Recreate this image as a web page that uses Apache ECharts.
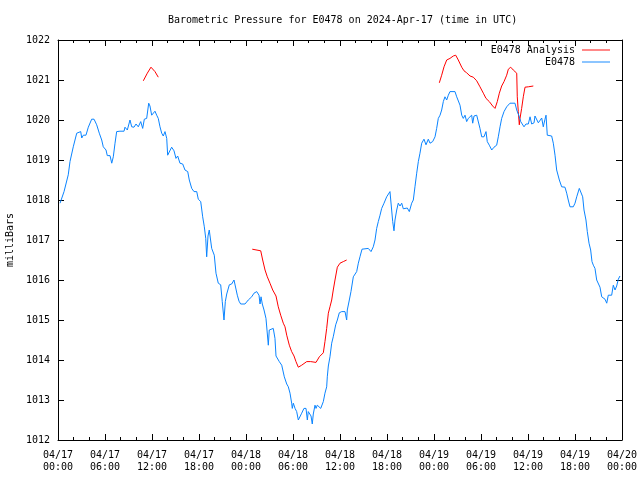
<!DOCTYPE html>
<html>
<head>
<meta charset="utf-8">
<script src="https://cdn.jsdelivr.net/npm/echarts@6/dist/echarts.min.js"></script>
<style>html,body{margin:0;padding:0;background:#fff;}#c{width:640px;height:480px;}</style>
</head>
<body>
<div id="c"></div>
<script>
// hours since 2024-04-17 00:00 UTC
var blueHours = [0.26,0.77,1.02,1.31,1.53,1.95,2.39,2.59,2.90,3.03,3.23,3.57,3.87,4.30,4.60,4.94,5.27,5.58,5.78,6.13,6.29,6.64,6.86,7.06,7.28,7.49,7.91,8.43,8.55,8.85,9.19,9.41,9.70,9.96,10.25,10.56,10.81,11.02,11.32,11.58,11.74,11.96,12.17,12.38,12.60,12.80,13.02,13.24,13.44,13.66,13.88,14.00,14.21,14.51,14.81,15.06,15.28,15.57,15.92,16.21,16.56,16.76,17.07,17.36,17.71,17.91,18.22,18.47,18.68,18.86,18.98,19.15,19.31,19.62,19.95,20.17,20.46,20.77,20.97,21.19,21.36,21.54,21.87,22.17,22.47,22.72,22.89,23.11,23.32,23.87,24.29,24.73,25.02,25.37,25.66,25.79,25.92,26.08,26.30,26.55,26.72,26.85,26.97,27.06,27.48,27.70,27.83,28.00,28.25,28.56,28.76,28.89,29.20,29.40,29.62,29.83,29.91,30.04,30.26,30.47,30.68,30.89,31.11,31.40,31.66,31.83,31.95,32.17,32.30,32.46,32.59,32.81,32.94,33.10,33.32,33.54,33.79,33.87,34.08,34.30,34.38,34.51,34.72,34.94,35.14,35.45,35.66,35.91,36.22,36.64,36.85,36.93,37.19,37.40,37.70,37.91,38.13,38.34,38.55,38.81,39.06,39.61,39.96,40.25,40.47,40.68,40.89,41.11,41.32,41.62,41.96,42.38,42.60,42.73,42.89,43.02,43.24,43.44,43.66,43.88,44.08,44.30,44.59,44.85,45.15,45.36,45.57,45.79,46.00,46.21,46.43,46.72,46.98,47.27,47.49,47.83,48.13,48.34,48.55,48.77,48.98,49.19,49.40,49.62,49.83,50.04,50.68,50.90,51.10,51.32,51.54,51.74,51.96,52.17,52.38,52.60,52.81,52.94,53.11,53.45,53.66,53.87,54.09,54.38,54.64,54.80,55.06,55.37,55.66,56.00,56.21,56.43,56.64,56.94,57.28,57.70,58.34,58.56,58.76,58.89,59.07,59.32,59.49,59.74,60.04,60.26,60.47,60.77,60.89,61.11,61.32,61.53,61.75,61.95,62.17,62.30,62.46,63.02,63.23,63.45,63.66,64.00,64.30,64.72,64.94,65.14,65.36,65.78,66.00,66.22,66.55,66.73,66.98,67.15,67.40,67.57,67.79,68.00,68.17,68.34,68.55,68.77,68.97,69.19,69.41,69.61,69.83,70.05,70.25,70.47,70.68,70.89,71.11,71.32,71.53,71.74];
var bluePressure = [1017.92,1018.21,1018.21,1018.63,1018.96,1019.33,1019.67,1019.72,1019.71,1019.55,1019.62,1019.62,1019.82,1020.02,1020.02,1019.88,1019.67,1019.50,1019.33,1019.25,1019.11,1019.11,1018.92,1019.08,1019.42,1019.71,1019.72,1019.72,1019.82,1019.75,1020.00,1019.83,1019.82,1019.90,1019.83,1019.96,1019.79,1020.02,1020.04,1020.42,1020.35,1020.12,1020.17,1020.22,1020.12,1020.04,1019.83,1019.67,1019.60,1019.71,1019.54,1019.12,1019.12,1019.32,1019.23,1019.04,1019.10,1018.92,1018.90,1018.75,1018.71,1018.50,1018.29,1018.21,1018.21,1018.02,1017.96,1017.58,1017.33,1017.04,1016.58,1017.10,1017.25,1016.79,1016.62,1016.17,1015.92,1015.88,1015.46,1015.00,1015.46,1015.65,1015.88,1015.90,1016.00,1016.00,1015.62,1015.47,1015.40,1015.40,1015.50,1015.58,1015.67,1015.71,1015.62,1015.40,1015.58,1015.40,1015.25,1015.04,1015.00,1014.37,1014.75,1014.79,1014.79,1014.54,1014.10,1014.15,1013.96,1013.87,1013.87,1013.58,1013.40,1013.33,1013.17,1012.92,1012.79,1012.92,1012.79,1012.71,1012.50,1012.50,1012.67,1012.79,1012.79,1012.50,1012.71,1012.68,1012.60,1012.40,1012.65,1012.87,1012.79,1012.87,1012.90,1012.79,1012.79,1012.96,1013.17,1013.33,1013.58,1013.85,1014.08,1014.42,1014.58,1014.88,1015.00,1015.18,1015.21,1015.21,1015.00,1015.25,1015.50,1015.71,1016.08,1016.12,1016.21,1016.42,1016.58,1016.77,1016.79,1016.79,1016.71,1016.83,1017.00,1017.29,1017.46,1017.62,1017.79,1017.92,1018.08,1018.21,1018.17,1017.46,1017.23,1017.50,1017.75,1017.92,1017.85,1017.92,1017.78,1017.83,1017.80,1017.71,1017.92,1018.00,1018.33,1018.67,1018.96,1019.17,1019.42,1019.52,1019.38,1019.52,1019.42,1019.46,1019.58,1019.79,1020.04,1020.12,1020.25,1020.46,1020.58,1020.50,1020.62,1020.71,1020.71,1020.58,1020.60,1020.37,1020.12,1020.04,1020.12,1019.96,1020.04,1020.08,1020.12,1019.92,1020.10,1020.12,1020.08,1019.79,1019.58,1019.58,1019.71,1019.46,1019.37,1019.25,1019.32,1019.37,1019.58,1019.83,1020.04,1020.21,1020.33,1020.42,1020.42,1020.25,1020.21,1020.08,1019.96,1019.92,1019.83,1019.90,1019.90,1020.08,1019.90,1019.93,1020.10,1020.10,1019.93,1019.95,1020.05,1019.83,1020.02,1020.12,1019.62,1019.60,1019.42,1019.12,1018.75,1018.50,1018.33,1018.32,1018.17,1018.00,1017.83,1017.83,1017.92,1018.08,1018.29,1018.33,1018.08,1017.75,1017.50,1017.21,1016.92,1016.75,1016.46,1016.37,1016.29,1016.00,1016.00,1015.82,1015.58,1015.58,1015.52,1015.42,1015.62,1015.67,1015.62,1015.87,1015.75,1015.85,1016.02,1016.10];

var analysisHoursA = [10.89,11.40,11.87,12.38,12.80];
var analysisPressureA = [1020.98,1021.17,1021.32,1021.21,1021.07];
var analysisHoursB = [24.80,25.88,26.13,26.43,26.72,27.06,27.41,27.83,28.12,28.43,28.76,28.98,29.20,29.53,29.83,30.13,30.38,30.68,31.11,31.75,32.26,32.94,33.36,33.87,34.08,34.30,34.51,34.72,34.94,35.14,35.36,35.66,36.00,36.42,36.85];
var analysisPressureB = [1016.77,1016.73,1016.50,1016.25,1016.08,1015.92,1015.75,1015.60,1015.33,1015.12,1014.92,1014.83,1014.62,1014.37,1014.21,1014.10,1013.96,1013.82,1013.87,1013.96,1013.96,1013.94,1014.08,1014.18,1014.46,1014.79,1015.17,1015.33,1015.50,1015.75,1016.00,1016.32,1016.42,1016.46,1016.50];
var analysisHoursC = [48.68,48.98,49.28,49.62,50.04,50.46,50.77,51.10,51.54,51.83,52.17,52.60,53.02,53.45,53.87,54.30,54.64,55.06,55.49,55.79,56.08,56.34,56.64,56.94,57.28,57.49,57.79,58.12,58.56,58.63,58.76,58.89,58.98,59.19,59.40,59.62,60.04,60.68];
var analysisPressureC = [1020.93,1021.12,1021.33,1021.50,1021.54,1021.60,1021.62,1021.50,1021.32,1021.23,1021.18,1021.10,1021.07,1020.98,1020.83,1020.67,1020.54,1020.46,1020.35,1020.29,1020.46,1020.67,1020.85,1020.96,1021.12,1021.27,1021.32,1021.25,1021.17,1020.58,1020.21,1019.88,1020.04,1020.29,1020.58,1020.82,1020.83,1020.85];

var dayLabels = ['04/17','04/18','04/19','04/20'];
var yMin = 1012, yMax = 1022;

function pairs(xs, ys){ return xs.map(function(x,i){ return [x, ys[i]]; }); }

var FONT = 'DejaVu Sans Mono';
var RED = '#ff0000', BLUE = '#0a84ff';

function xLabel(v){
  var d = Math.floor(v/24);
  var hh = v - d*24;
  return dayLabels[d] + '\n' + (hh<10?'0':'') + hh + ':00';
}

var chart = echarts.init(document.getElementById('c'), null, {renderer:'canvas'});
var axisLineStyle = {color:'#000', width:1};
var legendIcon = 'path://M0,0L30,0L30,1L0,1Z';
chart.setOption({
  animation:false,
  backgroundColor:'#fff',
  textStyle:{fontFamily:FONT},
  title:{
    text:'Barometric Pressure for E0478 on 2024-Apr-17 (time in UTC)',
    left:163, top:10,
    textStyle:{fontFamily:FONT, fontSize:10, fontWeight:'normal', color:'#000'}
  },
  legend:[
    {data:[{name:'E0478 Analysis', icon:legendIcon}], right:30, top:45, padding:0, itemWidth:28, itemHeight:1, itemGap:0,
     align:'right', textStyle:{fontFamily:FONT, fontSize:10, color:'#000', padding:[0,2,0,0]}},
    {data:[{name:'E0478', icon:legendIcon}], right:30, top:57, padding:0, itemWidth:28, itemHeight:1, itemGap:0,
     align:'right', textStyle:{fontFamily:FONT, fontSize:10, color:'#000', padding:[0,2,0,0]}}
  ],
  grid:{left:58, right:18, top:40, bottom:40, containLabel:false, outerBoundsMode:'none'},
  xAxis:[
    {type:'value', min:0, max:72, interval:6, position:'bottom',
     axisLine:{show:true, onZero:false, lineStyle:axisLineStyle},
     axisTick:{show:true, inside:true, length:6, lineStyle:axisLineStyle},
     minorTick:{show:true, splitNumber:3, length:3, lineStyle:axisLineStyle},
     splitLine:{show:false},
     axisLabel:{formatter:xLabel, fontFamily:FONT, fontSize:10, color:'#000', lineHeight:12, margin:9}},
    {type:'value', min:0, max:72, interval:6, position:'top',
     axisLine:{show:true, onZero:false, lineStyle:axisLineStyle},
     axisTick:{show:true, inside:true, length:6, lineStyle:axisLineStyle},
     minorTick:{show:true, splitNumber:3, length:3, lineStyle:axisLineStyle},
     splitLine:{show:false}, axisLabel:{show:false}}
  ],
  yAxis:[
    {type:'value', min:yMin, max:yMax, interval:1, position:'left',
     name:'milliBars', nameLocation:'middle', nameGap:40, nameRotate:90,
     nameTextStyle:{fontFamily:FONT, fontSize:10, color:'#000'},
     axisLine:{show:true, onZero:false, lineStyle:axisLineStyle},
     axisTick:{show:true, inside:true, length:6, lineStyle:axisLineStyle},
     splitLine:{show:false},
     axisLabel:{formatter:function(v){return String(v);}, fontFamily:FONT, fontSize:10, color:'#000', margin:8}},
    {type:'value', min:yMin, max:yMax, interval:1, position:'right',
     axisLine:{show:true, onZero:false, lineStyle:axisLineStyle},
     axisTick:{show:true, inside:true, length:6, lineStyle:axisLineStyle},
     splitLine:{show:false}, axisLabel:{show:false}}
  ],
  series:[
    {name:'E0478 Analysis', type:'line', data:pairs(analysisHoursA, analysisPressureA), symbol:'none',
     lineStyle:{color:RED, width:1}, itemStyle:{color:RED}},
    {name:'E0478 Analysis', type:'line', data:pairs(analysisHoursB, analysisPressureB), symbol:'none',
     lineStyle:{color:RED, width:1}, itemStyle:{color:RED}},
    {name:'E0478 Analysis', type:'line', data:pairs(analysisHoursC, analysisPressureC), symbol:'none',
     lineStyle:{color:RED, width:1}, itemStyle:{color:RED}},
    {name:'E0478', type:'line', data:pairs(blueHours, bluePressure), symbol:'none',
     lineStyle:{color:BLUE, width:1}, itemStyle:{color:BLUE}}
  ]
});
</script>
</body>
</html>
